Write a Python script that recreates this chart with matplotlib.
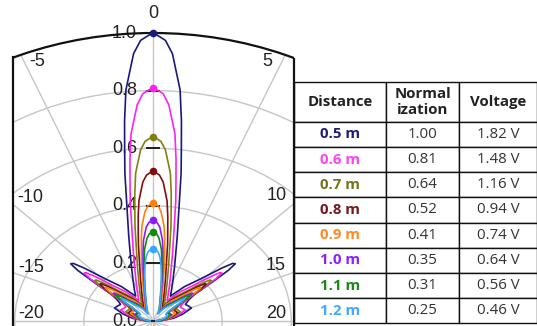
import numpy as np
import matplotlib
matplotlib.use("Agg")
import matplotlib.pyplot as plt
from matplotlib.patches import Rectangle
from matplotlib.lines import Line2D
import matplotlib.transforms as mtransforms

# ---------------- data ----------------
distances = ["0.5 m", "0.6 m", "0.7 m", "0.8 m", "0.9 m", "1.0 m", "1.1 m", "1.2 m"]
normalization = [1.00, 0.81, 0.64, 0.52, 0.41, 0.35, 0.31, 0.25]
voltage = ["1.82 V", "1.48 V", "1.16 V", "0.94 V", "0.74 V", "0.64 V", "0.56 V", "0.46 V"]
colors = ["#1a1a7e", "#ff22ee", "#808010", "#7e1010", "#ff8010", "#8a1aff", "#108a10", "#36a6ff"]
text_colors = ["#20206e", "#ff44ee", "#74741a", "#741a1a", "#ff8a28", "#8a22ff", "#1a8a1a", "#44a8ff"]

# angles (chart's degree units, right half; left half mirrored)
half_angles = [0, 0.2, 0.47, 0.77, 1.0, 1.24, 1.5, 1.73, 2.0, 2.4, 3.0, 4.0, 5.0, 5.9, 6.7,
               7.5, 8.3, 9.6, 10.5, 10.9, 11.15, 11.35, 11.5, 11.7, 12.2, 13.0, 14.0, 15.1,
               16.5, 18.0, 20.0]

r_05 = [1.00, 0.99, 0.975, 0.93, 0.865, 0.806, 0.70, 0.606, 0.52, 0.402, 0.30, 0.203, 0.150, 0.120, 0.100,
        0.120, 0.150, 0.200, 0.270, 0.305, 0.310, 0.280, 0.220, 0.150, 0.125, 0.110, 0.115, 0.120, 0.090, 0.060, 0.020]
r_06 = [0.81, 0.802, 0.790, 0.753, 0.701, 0.653, 0.567, 0.491, 0.421, 0.326, 0.243, 0.164, 0.122, 0.097, 0.081,
        0.101, 0.126, 0.168, 0.227, 0.256, 0.260, 0.235, 0.185, 0.126, 0.105, 0.092, 0.096, 0.101, 0.076, 0.050, 0.017]
r_07 = [0.64, 0.634, 0.624, 0.595, 0.554, 0.516, 0.448, 0.388, 0.333, 0.257, 0.192, 0.130, 0.096, 0.077, 0.064,
        0.085, 0.107, 0.142, 0.192, 0.217, 0.220, 0.199, 0.156, 0.107, 0.089, 0.078, 0.082, 0.085, 0.064, 0.043, 0.014]
r_08 = [0.52, 0.515, 0.507, 0.484, 0.450, 0.419, 0.364, 0.315, 0.270, 0.209, 0.156, 0.106, 0.078, 0.062, 0.052,
        0.077, 0.097, 0.129, 0.174, 0.197, 0.200, 0.181, 0.142, 0.097, 0.081, 0.071, 0.074, 0.077, 0.058, 0.039, 0.013]
r_09 = [0.41, 0.406, 0.400, 0.381, 0.355, 0.330, 0.287, 0.248, 0.213, 0.165, 0.123, 0.083, 0.062, 0.049, 0.041,
        0.070, 0.087, 0.116, 0.157, 0.177, 0.180, 0.163, 0.128, 0.087, 0.073, 0.064, 0.067, 0.070, 0.052, 0.035, 0.012]
r_10 = [0.35, 0.347, 0.341, 0.326, 0.303, 0.282, 0.245, 0.212, 0.182, 0.141, 0.105, 0.071, 0.053, 0.042, 0.035,
        0.058, 0.073, 0.097, 0.131, 0.148, 0.150, 0.136, 0.106, 0.073, 0.061, 0.053, 0.056, 0.058, 0.044, 0.029, 0.010]
r_11 = [0.31, 0.307, 0.302, 0.288, 0.268, 0.250, 0.217, 0.188, 0.161, 0.125, 0.093, 0.063, 0.047, 0.037, 0.031,
        0.054, 0.068, 0.090, 0.122, 0.138, 0.140, 0.127, 0.099, 0.068, 0.057, 0.050, 0.052, 0.054, 0.041, 0.027, 0.009]
r_12 = [0.25, 0.249, 0.246, 0.240, 0.230, 0.217, 0.196, 0.176, 0.156, 0.128, 0.098, 0.066, 0.048, 0.036, 0.028,
        0.046, 0.058, 0.077, 0.105, 0.118, 0.120, 0.108, 0.085, 0.058, 0.048, 0.043, 0.045, 0.046, 0.035, 0.023, 0.008]
series = [r_05, r_06, r_07, r_08, r_09, r_10, r_11, r_12]

theta_tick_labels = [-20, -15, -10, -5, 0, 5, 10, 15, 20]
r_ticks = [0.0, 0.2, 0.4, 0.6, 0.8, 1.0]
angle_scale = 4.5  # chart degree -> polar degree

# ---------------- figure ----------------
W, H = 537, 326
DPI = 100
plt.rcParams["font.family"] = ["Liberation Sans", "DejaVu Sans"]
fig = plt.figure(figsize=(W / DPI, H / DPI), dpi=DPI, facecolor="white")

# polar axes, stretched horizontally, centre near bottom
cx, cy = 153.0, 321.0          # centre in pixels (from top)
Rv, Rh = 288.0, 345.6          # radii for r = 1
ax = fig.add_axes([(cx - Rh) / W, (H - cy - Rv) / H, 2 * Rh / W, 2 * Rv / H],
                  projection="polar")
ax.set_aspect("auto")
ax.set_theta_zero_location("N")
ax.set_theta_direction(-1)
ax.patch.set_alpha(0)

clip = Rectangle((13 / W, 0), (293.5 - 13) / W, 1, transform=fig.transFigure)

ax.set_xticks(np.deg2rad(np.arange(0, 360, 22.5)))
ax.set_yticks(r_ticks[1:-1])
ax.set_xticklabels([])
ax.set_yticklabels([])
ax.tick_params(length=0)
ax.grid(True, color="#c6c6c6", lw=1.0)

ha = np.array(half_angles)
full_ang = np.concatenate([-ha[::-1], ha[1:]]) * angle_scale
theta = np.deg2rad(full_ang)
for r_half, col in zip(series, colors):
    r_half = np.array(r_half)
    r_full = np.concatenate([r_half[::-1], r_half[1:]])
    ln, = ax.plot(theta, r_full, color=col, lw=1.2, zorder=3)
    ln.set_clip_path(clip)
    mk, = ax.plot([0], [r_half[0]], "o", color=col, ms=4.5, zorder=4)
    mk.set_clip_path(clip)

# radial tick dashes and labels
ax.plot(np.zeros(len(r_ticks)), r_ticks, ls="none", marker="_", ms=9.5,
        mew=1.3, color="#222222", zorder=2.5)
off = mtransforms.ScaledTranslation(-0.16, 0, fig.dpi_scale_trans)
for r in r_ticks:
    ax.text(0, r, f"{r:.1f}", transform=ax.transData + off, ha="right", va="center",
            fontsize=13, color="#222222", zorder=2)

ax.set_xlim(0, 2 * np.pi)
ax.set_ylim(0, 1.0)
for t in ax.xaxis.get_major_ticks() + ax.yaxis.get_major_ticks():
    t.gridline.set_clip_path(clip)
ax.spines["polar"].set_linewidth(1.6)
ax.spines["polar"].set_color("#111111")
ax.spines["polar"].set_clip_path(clip)

# angular labels placed inside the frame
theta_label_pos = {-20: (31, 313), -15: (31, 267), -10: (30, 198), -5: (37, 62),
                   0: (153, 13), 5: (267, 62), 10: (277, 195), 15: (276, 265), 20: (276, 313)}
for lab in theta_tick_labels:
    x, y = theta_label_pos[lab]
    fig.text(x / W, 1 - y / H, f"{lab}", ha="center", va="center", fontsize=13,
             color="#222222")

# frame side lines
fig.add_artist(Line2D([13 / W, 13 / W], [0, 1 - 57 / H], transform=fig.transFigure,
                      color="#111111", lw=1.6))
fig.add_artist(Line2D([293.5 / W, 293.5 / W], [0, 1 - 59 / H], transform=fig.transFigure,
                      color="#111111", lw=1.6))

# ---------------- table ----------------
tx0, tx1, ty0, ty1 = 294.0, 536.5, 82.3, 323.3
tax = fig.add_axes([tx0 / W, 1 - ty1 / H, (tx1 - tx0) / W, (ty1 - ty0) / H])
tax.axis("off")
cell_text = [[d, f"{n:.2f}", v] for d, n, v in zip(distances, normalization, voltage)]
tbl = tax.table(cellText=cell_text, colLabels=["Distance", "Normal\nization", "Voltage"],
                cellLoc="center", colWidths=[91.7, 73.6, 77.2], bbox=[0, 0, 1, 1])
tbl.auto_set_font_size(False)
tbl.set_fontsize(10.8)
for (row, col), cell in tbl.get_celld().items():
    cell.set_linewidth(1.0)
    cell.set_edgecolor("#111111")
    cell.set_facecolor("white")
    txt = cell.get_text()
    txt.set_fontfamily(["Open Sans", "DejaVu Sans"])
    txt.set_color("#333333")
    if row == 0:
        cell.set_height(39.5)
        txt.set_fontweight("bold")
        txt.set_color("#222222")
        txt.set_linespacing(1.2)
    else:
        cell.set_height(25.2)
        if col == 0:
            txt.set_fontweight("bold")
            txt.set_color(text_colors[row - 1])

fig.savefig("out.png", dpi=DPI, facecolor="white")
